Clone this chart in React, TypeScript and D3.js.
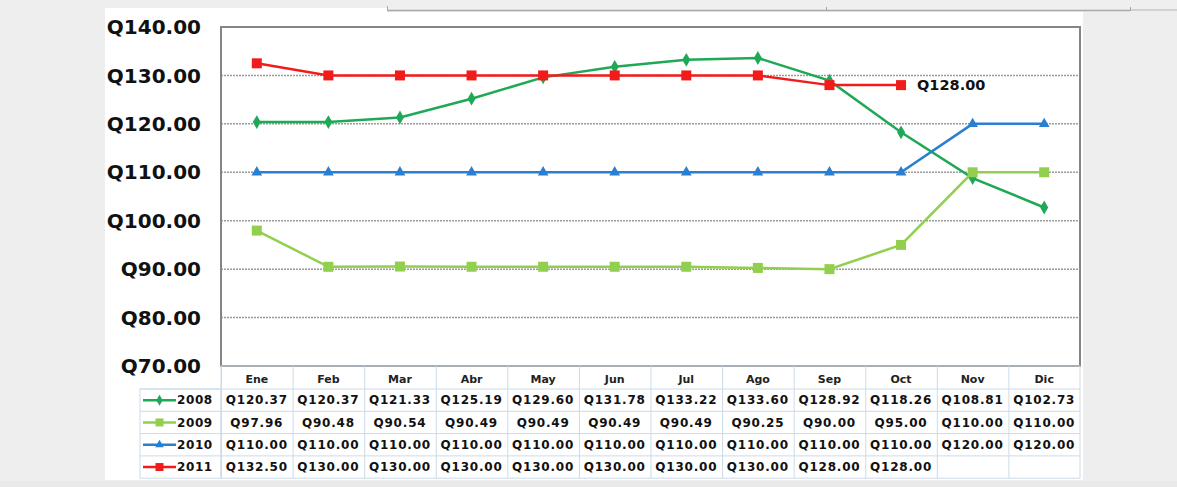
import React from "react";
import * as d3 from "d3";

const months = ["Ene", "Feb", "Mar", "Abr", "May", "Jun", "Jul", "Ago", "Sep", "Oct", "Nov", "Dic"];
const years = ["2008", "2009", "2010", "2011"];
const v2008 = [120.37, 120.37, 121.33, 125.19, 129.6, 131.78, 133.22, 133.6, 128.92, 118.26, 108.81, 102.73];
const v2009 = [97.96, 90.48, 90.54, 90.49, 90.49, 90.49, 90.49, 90.25, 90.0, 95.0, 110.0, 110.0];
const v2010 = [110, 110, 110, 110, 110, 110, 110, 110, 110, 110, 120, 120];
const v2011: (number | null)[] = [132.5, 130, 130, 130, 130, 130, 130, 130, 128, 128, null, null];
const yTicks = [70, 80, 90, 100, 110, 120, 130, 140];
const labelledPoint = { series: 3, index: 9 };

type Shape = "diamond" | "square" | "triangle";
const seriesStyle: { color: string; shape: Shape; size: number }[] = [
  { color: "#1fa855", shape: "diamond", size: 10 },
  { color: "#93cf4f", shape: "square", size: 10 },
  { color: "#2b7fd0", shape: "triangle", size: 10 },
  { color: "#f21b1b", shape: "square", size: 10 },
];
const allSeries: (number | null)[][] = [v2008, v2009, v2010, v2011];

const fmt = (v: number) => "Q" + d3.format(".2f")(v);

function Marker({ x, y, shape, size, color }: { x: number; y: number; shape: Shape; size: number; color: string }) {
  if (shape === "square") {
    return <rect x={x - size / 2} y={y - size / 2} width={size} height={size} fill={color} />;
  }
  const sym = shape === "diamond" ? d3.symbolDiamond : d3.symbolTriangle;
  const area = shape === "diamond" ? size * size * 0.55 : size * size * 0.5;
  const p = d3.symbol().type(sym).size(area)();
  return <path d={p || ""} transform={`translate(${x},${y})`} fill={color} />;
}

export default function App() {
  const W = 1177;
  const H = 487;
  const plot = { left: 221, right: 1080, top: 27, bottom: 366 };
  const x = d3.scaleBand<string>().domain(months).range([plot.left, plot.right]);
  const y = d3.scaleLinear().domain([70, 140]).range([plot.bottom, plot.top]);
  const bw = x.bandwidth();
  const cx = (m: string) => (x(m) as number) + bw / 2;

  const line = d3
    .line<number | null>()
    .defined((d) => d !== null)
    .x((_, i) => cx(months[i]))
    .y((d) => y(d as number));

  const headerTop = plot.bottom;
  const headerH = 23;
  const rowH = 22.3;
  const legendLeft = 140;
  const tableBottom = headerTop + headerH + rowH * years.length;
  const border = "#cbdbe8";
  const font = "'DejaVu Sans', Verdana, sans-serif";

  const lp = allSeries[labelledPoint.series][labelledPoint.index] as number;

  return (
    <svg
      width={W}
      height={H}
      style={{ position: "absolute", left: 0, top: 0, display: "block" }}
      fontFamily={font}
    >
      <rect x={0} y={0} width={W} height={H} fill="#eeeeee" />
      <rect x={105} y={8} width={978} height={472} fill="#ffffff" />
      {/* strip across the top */}
      <rect x={387} y={0} width={W - 387} height={12} fill="#efefef" />
      <line x1={387} x2={1130} y1={10.5} y2={10.5} stroke="#a9a9a9" strokeWidth={1.5} />
      <line x1={1130} x2={W} y1={10} y2={10} stroke="#b5b5b5" strokeWidth={1} />
      <line x1={387.5} x2={387.5} y1={6} y2={11} stroke="#a9a9a9" />
      <line x1={826.5} x2={826.5} y1={7} y2={11} stroke="#a9a9a9" />
      <line x1={1130.5} x2={1130.5} y1={7} y2={11} stroke="#a9a9a9" />
      <rect x={0} y={481} width={W} height={6} fill="#e9e9e9" />

      {/* gridlines */}
      {yTicks
        .filter((t) => t !== 70 && t !== 140)
        .map((t) => (
          <line
            key={t}
            x1={plot.left}
            x2={plot.right}
            y1={y(t)}
            y2={y(t)}
            stroke="#9a9a9a"
            strokeWidth={1.5}
            strokeDasharray="2,1"
          />
        ))}

      {/* plot frame */}
      <rect
        x={plot.left}
        y={plot.top}
        width={plot.right - plot.left}
        height={plot.bottom - plot.top}
        fill="none"
        stroke="#858585"
        strokeWidth={2}
      />

      {/* y axis labels */}
      {yTicks.map((t) => (
        <text
          key={t}
          x={201}
          y={y(t)}
          dy="0.36em"
          textAnchor="end"
          fontSize={20}
          fontWeight="bold"
          fill="#111"
        >
          {fmt(t)}
        </text>
      ))}

      {/* series lines */}
      {allSeries.map((s, si) => (
        <path key={si} d={line(s) || ""} fill="none" stroke={seriesStyle[si].color} strokeWidth={2.5} />
      ))}
      {allSeries.map((s, si) =>
        s.map((v, i) =>
          v === null ? null : (
            <Marker
              key={`${si}-${i}`}
              x={cx(months[i])}
              y={y(v)}
              shape={seriesStyle[si].shape}
              size={seriesStyle[si].size}
              color={seriesStyle[si].color}
            />
          )
        )
      )}

      {/* data label */}
      <text
        x={cx(months[labelledPoint.index]) + 16}
        y={y(lp)}
        dy="0.36em"
        fontSize={14.5}
        fontWeight="bold"
        fill="#111"
      >
        {fmt(lp)}
      </text>

      {/* data table */}
      <g>
        <rect
          x={plot.left}
          y={headerTop}
          width={plot.right - plot.left}
          height={tableBottom - headerTop}
          fill="none"
          stroke={border}
        />
        <rect
          x={legendLeft}
          y={headerTop + headerH}
          width={plot.left - legendLeft}
          height={rowH * years.length}
          fill="none"
          stroke={border}
        />
        {months.map((m) => (
          <line
            key={"v" + m}
            x1={(x(m) as number) + 0.5}
            x2={(x(m) as number) + 0.5}
            y1={headerTop}
            y2={tableBottom}
            stroke={border}
          />
        ))}
        {years.map((yr, ri) => (
          <line
            key={"h" + yr}
            x1={legendLeft}
            x2={plot.right}
            y1={headerTop + headerH + rowH * ri}
            y2={headerTop + headerH + rowH * ri}
            stroke={border}
          />
        ))}
        {months.map((m) => (
          <text
            key={"m" + m}
            x={cx(m)}
            y={headerTop + headerH / 2 + 2}
            dy="0.36em"
            textAnchor="middle"
            fontSize={11}
            fontWeight="bold"
            fill="#222"
          >
            {m}
          </text>
        ))}
        {years.map((yr, ri) => {
          const rc = headerTop + headerH + rowH * ri + rowH / 2;
          const st = seriesStyle[ri];
          return (
            <g key={"r" + yr}>
              <line x1={143} x2={176} y1={rc} y2={rc} stroke={st.color} strokeWidth={2.5} />
              <Marker x={159.5} y={rc} shape={st.shape} size={8} color={st.color} />
              <text x={177} y={rc} dy="0.36em" fontSize={12} fontWeight="bold" letterSpacing={0.6} fill="#111">
                {yr}
              </text>
              {allSeries[ri].map((v, i) =>
                v === null ? null : (
                  <text
                    key={i}
                    x={cx(months[i])}
                    y={rc}
                    dy="0.36em"
                    textAnchor="middle"
                    fontSize={12}
                    fontWeight="bold"
                    letterSpacing={0.8}
                    fill="#111"
                  >
                    {fmt(v)}
                  </text>
                )
              )}
            </g>
          );
        })}
      </g>
    </svg>
  );
}
